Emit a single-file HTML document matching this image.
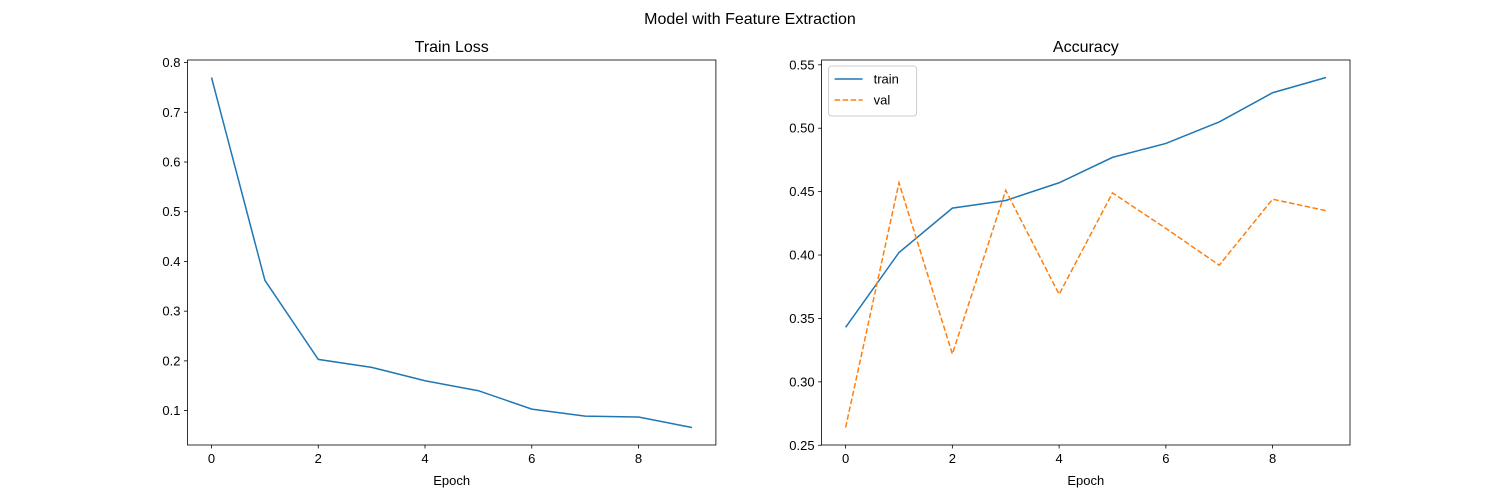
<!DOCTYPE html>
<html><head><meta charset="utf-8"><style>
body{margin:0;background:#fff}
svg{display:block;font-family:"Liberation Sans","DejaVu Sans",sans-serif}
</style></head><body>
<svg id="fig" width="1500" height="500">
<rect width="1500" height="500" fill="#fff"/>
<text x="750" y="24" text-anchor="middle" font-size="16">Model with Feature Extraction</text>
</svg>
<script>
const epochs=[0,1,2,3,4,5,6,7,8,9];
const lossVals=[0.770,0.362,0.203,0.187,0.160,0.140,0.103,0.089,0.087,0.066];
const trainAcc=[0.343,0.402,0.437,0.443,0.457,0.477,0.488,0.505,0.528,0.540];
const valAcc=[0.264,0.457,0.322,0.451,0.369,0.449,0.421,0.392,0.444,0.435];
const xTicks=[0,2,4,6,8];
const lossTicks=[0.1,0.2,0.3,0.4,0.5,0.6,0.7,0.8];
const accTicks=[0.25,0.30,0.35,0.40,0.45,0.50,0.55];
const NS="http://www.w3.org/2000/svg";
const svg=document.getElementById('fig');
function mk(tag,attrs,parent){const e=document.createElementNS(NS,tag);for(const k in attrs)e.setAttribute(k,attrs[k]);(parent||svg).appendChild(e);return e;}
function lim(arrs){let mn=Math.min(...arrs.flat()),mx=Math.max(...arrs.flat());const m=(mx-mn)*0.05;return [mn-m,mx+m];}
function axes(L,name,title,series,yTicks,dec){
  const T=60,B=445,R=L+528.4;
  const g=mk('g',{});
  
  
  const x0=Math.min(...epochs),x1=Math.max(...epochs),xm=(x1-x0)*0.05;
  const sx=v=>L+(v-(x0-xm))/((x1+xm)-(x0-xm))*(R-L);
  const [y0,y1]=lim(series.map(s=>s.data));
  const sy=v=>B-(v-y0)/(y1-y0)*(B-T);
  series.forEach(s=>{
    const p=mk('polyline',{points:epochs.map((e,i)=>sx(e)+','+sy(s.data[i])).join(' '),fill:'none',stroke:s.color,'stroke-width':1.5,'stroke-dasharray':s.dash||'none'},g);
    
    
  });
  mk('rect',{x:L,y:T,width:R-L,height:B-T,fill:'none',stroke:'#000','stroke-width':0.8},g);
  xTicks.forEach(t=>{const x=sx(t);mk('line',{x1:x,x2:x,y1:B,y2:B+3.5,stroke:'#000','stroke-width':0.8},g);
    const tx=mk('text',{x:x,y:B+18,'text-anchor':'middle','font-size':13},g);tx.textContent=t;
    });
  yTicks.forEach(t=>{const y=sy(t);mk('line',{x1:L-3.5,x2:L,y1:y,y2:y,stroke:'#000','stroke-width':0.8},g);
    const tx=mk('text',{x:L-7,y:y+4.5,'text-anchor':'end','font-size':13},g);tx.textContent=t.toFixed(dec);
    });
  const tt=mk('text',{x:(L+R)/2,y:T-8,'text-anchor':'middle','font-size':16},g);tt.textContent=title;
  
  const xl=mk('text',{x:(L+R)/2,y:B+40,'text-anchor':'middle','font-size':13},g);xl.textContent='Epoch';
  
  return {L,T,g};
}
axes(187.5,'train-loss-chart','Train Loss',[{name:'loss-line',data:lossVals,color:'#1f77b4'}],lossTicks,1);
const a=axes(821.6,'accuracy-chart','Accuracy',[{name:'train-line',data:trainAcc,color:'#1f77b4'},{name:'val-line',data:valAcc,color:'#ff7f0e',dash:'5.5,2.5'}],accTicks,2);
const lg=mk('g',{},a.g);


mk('rect',{x:a.L+7,y:a.T+6,width:88,height:50,rx:3,fill:'#fff',stroke:'#ccc','stroke-width':1},lg);
[['train','#1f77b4','none'],['val','#ff7f0e','5.5,2.5']].forEach((d,i)=>{
  const y=a.T+19+i*21;
  mk('line',{x1:a.L+13,x2:a.L+41,y1:y,y2:y,stroke:d[1],'stroke-width':1.5,'stroke-dasharray':d[2]},lg);
  const t=mk('text',{x:a.L+52,y:y+4.5,'font-size':13},lg);t.textContent=d[0];
  
  
});
</script>
</body></html>
